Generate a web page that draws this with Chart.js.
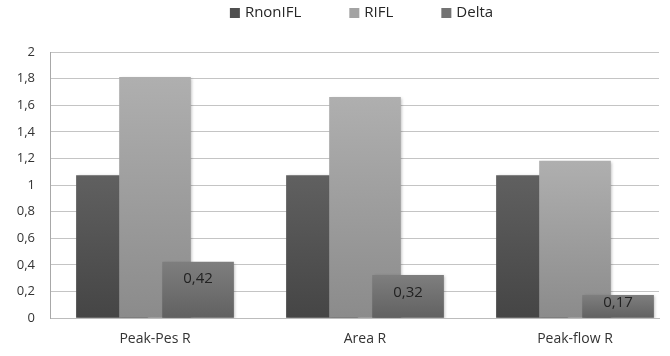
<!DOCTYPE html>
<html>
<head>
<meta charset="utf-8">
<script src="https://cdn.jsdelivr.net/npm/chart.js@4/dist/chart.umd.min.js"></script>
<style>
  html, body { margin: 0; padding: 0; background: #ffffff; }
  #wrap { width: 670px; height: 356px; position: relative; }
</style>
</head>
<body>
<div id="wrap"><canvas id="chart"></canvas></div>
<script>
// Resistance ratios per method
const categories = ['Peak-Pes R', 'Area R', 'Peak-flow R'];
const seriesNames = ['RnonIFL', 'RIFL', 'Delta'];
const rNonIFL = [1.07, 1.07, 1.07];
const rIFL = [1.81, 1.66, 1.18];
const delta = [0.42, 0.32, 0.17];
const yTickLabels = ['0', '0,2', '0,4', '0,6', '0,8', '1', '1,2', '1,4', '1,6', '1,8', '2'];

const FONT = '"Open Sans", "DejaVu Sans", sans-serif';

// vertical shading for each bar, from its top down to the baseline
function barGradient(topColor, bottomColor) {
  return (c) => {
    const chart = c.chart;
    if (!chart.chartArea || c.type !== 'data' || !c.parsed) return bottomColor;
    const y = chart.scales.y;
    const yTop = y.getPixelForValue(c.parsed.y);
    const yBase = y.getPixelForValue(0);
    const g = chart.ctx.createLinearGradient(0, yTop, 0, yBase);
    g.addColorStop(0, topColor);
    g.addColorStop(1, bottomColor);
    return g;
  };
}

// overlapping columns: each series sits a fixed fraction of a category away from the centre
const groupShift = 0.205;
function toPoints(values, k) {
  return values.map((v, i) => ({ x: i + (k - 1) * groupShift, y: v }));
}

const seriesValues = [rNonIFL, rIFL, delta];
const seriesStyle = [
  { top: '#606060', bottom: '#454545', key: '#4f4f4f', order: 3 },
  { top: '#afafaf', bottom: '#8b8b8b', key: '#a3a3a3', order: 2 },
  { top: '#7e7e7e', bottom: '#616161', key: '#737373', order: 1 }
];

const datasets = seriesNames.map((name, k) => ({
  label: name,
  data: toPoints(seriesValues[k], k),
  backgroundColor: barGradient(seriesStyle[k].top, seriesStyle[k].bottom),
  legendColor: seriesStyle[k].key,
  borderWidth: 0,
  barThickness: 71,
  grouped: false,
  order: seriesStyle[k].order
}));

// soft drop shadow behind the columns
const barShadow = {
  id: 'barShadow',
  beforeDatasetDraw(chart) {
    const ctx = chart.ctx;
    ctx.save();
    ctx.shadowColor = 'rgba(0,0,0,0.28)';
    ctx.shadowBlur = 3;
    ctx.shadowOffsetX = 1.5;
    ctx.shadowOffsetY = 1;
  },
  afterDatasetDraw(chart) {
    chart.ctx.restore();
  }
};

// value labels inside the top of the Delta columns
const deltaLabels = {
  id: 'deltaLabels',
  afterDatasetsDraw(chart) {
    const idx = seriesNames.indexOf('Delta');
    const meta = chart.getDatasetMeta(idx);
    const ctx = chart.ctx;
    ctx.save();
    ctx.font = '15px ' + FONT;
    ctx.fillStyle = '#222222';
    ctx.textAlign = 'center';
    ctx.textBaseline = 'middle';
    meta.data.forEach((bar, i) => {
      const v = delta[i];
      const cy = Math.min(bar.y + 17, bar.base - 15);
      ctx.fillText(v.toFixed(2).replace('.', ','), bar.x, cy);
    });
    ctx.restore();
  }
};

// legend row across the top
const topLegend = {
  id: 'topLegend',
  afterDraw(chart) {
    const ctx = chart.ctx;
    const box = 10, boxGap = 5, itemGap = 48;
    ctx.save();
    ctx.font = '15px ' + FONT;
    const items = chart.data.datasets.map(ds => ({
      text: ds.label,
      color: ds.legendColor,
      w: box + boxGap + ctx.measureText(ds.label).width
    }));
    const total = items.reduce((s, it) => s + it.w, 0) + itemGap * (items.length - 1);
    const area = chart.chartArea;
    let x = (area.left + area.right) / 2 + 7 - total / 2;
    const cy = 13;
    ctx.textBaseline = 'middle';
    ctx.textAlign = 'left';
    items.forEach(it => {
      ctx.fillStyle = it.color;
      ctx.fillRect(x, cy - box / 2, box, box);
      ctx.fillStyle = '#262626';
      ctx.fillText(it.text, x + box + boxGap, cy);
      x += it.w + itemGap;
    });
    ctx.restore();
  }
};

new Chart(document.getElementById('chart'), {
  type: 'bar',
  data: { datasets },
  plugins: [barShadow, deltaLabels, topLegend],
  options: {
    responsive: true,
    maintainAspectRatio: false,
    animation: false,
    layout: { padding: { top: 52, right: 11, bottom: 0, left: 0 } },
    plugins: {
      legend: { display: false },
      tooltip: { enabled: false }
    },
    scales: {
      x: {
        type: 'linear',
        offset: false,
        bounds: 'ticks',
        min: -0.5,
        max: 2.4,
        afterBuildTicks(scale) {
          scale.ticks = categories.map((_, i) => ({ value: i }));
        },
        afterFit(scale) { scale.height = 38; },
        ticks: {
          callback: (v) => categories[v],
          font: { family: FONT, size: 14 },
          color: '#333333',
          padding: 13,
          autoSkip: false,
          maxRotation: 0
        },
        grid: { display: false, drawTicks: false, offset: false },
        border: { display: true, color: '#bcbcbc', width: 1 }
      },
      y: {
        min: 0,
        max: 2,
        afterBuildTicks(scale) {
          scale.ticks = yTickLabels.map((_, i) => ({ value: i * 0.2 }));
        },
        afterFit(scale) { scale.width = 50; },
        ticks: {
          callback: (v, i) => yTickLabels[i],
          font: { family: FONT, size: 13 },
          color: '#333333',
          padding: 15
        },
        grid: { color: '#c4c4c4', lineWidth: 1, drawTicks: false },
        border: { display: true, color: '#a8a8a8', width: 1 }
      }
    }
  }
});
</script>
</body>
</html>
